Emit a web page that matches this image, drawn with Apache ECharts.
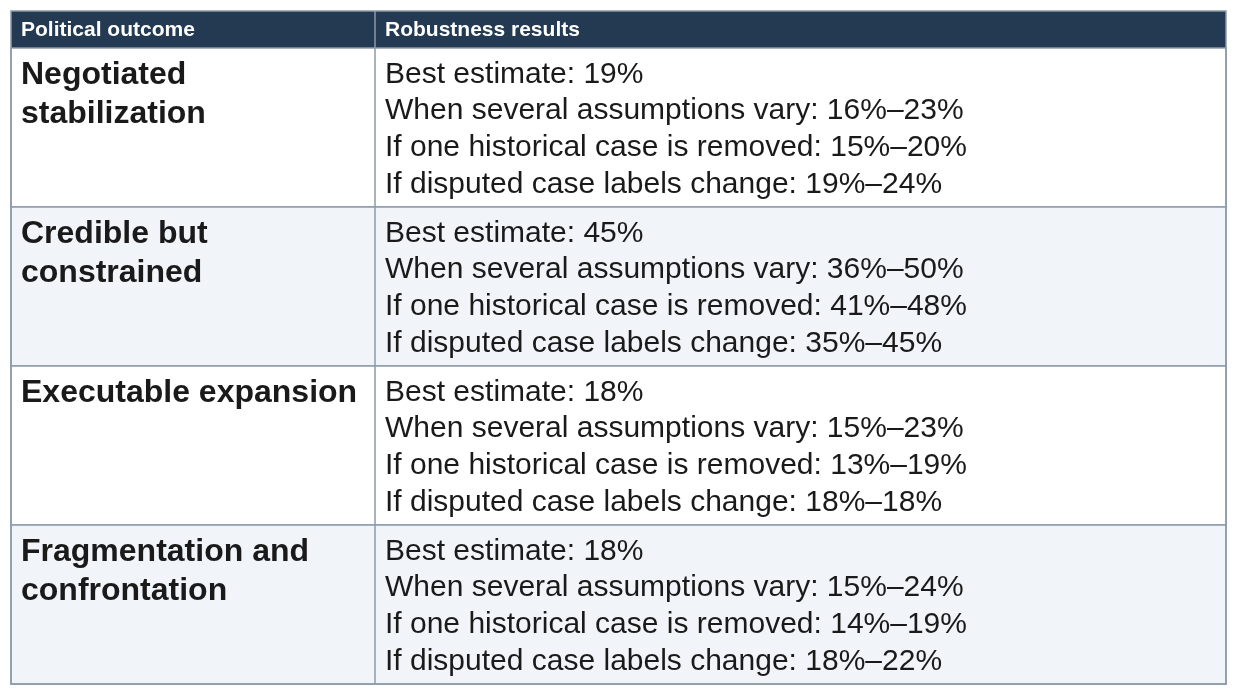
<!DOCTYPE html>
<html><head><meta charset="utf-8">
<script src="https://cdn.jsdelivr.net/npm/echarts@6/dist/echarts.min.js"></script>
<style>html,body{margin:0;padding:0;background:#fff}#c{width:1237px;height:695px}</style>
</head><body><div id="c"></div>
<script>
const headers = ["Political outcome", "Robustness results"];
const outcomes = ["Negotiated\nstabilization", "Credible but\nconstrained", "Executable expansion", "Fragmentation and\nconfrontation"];
const bestEstimate = [19, 45, 18, 18];
const assumptionsVary = [[16, 23], [36, 50], [15, 23], [15, 24]];
const caseRemoved = [[15, 20], [41, 48], [13, 19], [14, 19]];
const labelsChange = [[19, 24], [35, 45], [18, 18], [18, 22]];

const X0 = 11, X1 = 375, X2 = 1226, HY0 = 11, HY1 = 48, RH = 159;
const font = '"Liberation Sans", Arial, sans-serif';
const els = [];
els.push({type:'rect', shape:{x:X0,y:HY0,width:X2-X0,height:HY1-HY0}, style:{fill:'#233a52'}});
els.push({type:'text', x:X0+10, y:(HY0+HY1)/2+1, style:{text:headers[0], fill:'#fff', font:'bold 21px '+font, verticalAlign:'middle'}});
els.push({type:'text', x:X1+10, y:(HY0+HY1)/2+1, style:{text:headers[1], fill:'#fff', font:'bold 21px '+font, verticalAlign:'middle'}});
const rng = r => r[0] + '%–' + r[1] + '%';
outcomes.forEach((o, i) => {
  const y = HY1 + i * RH;
  els.push({type:'rect', shape:{x:X0,y:y,width:X2-X0,height:RH}, style:{fill: i%2 ? '#f1f5f9' : '#ffffff', stroke:'#8d9aa8', lineWidth:1.5}});
  els.push({type:'line', shape:{x1:X1,y1:y,x2:X1,y2:y+RH}, style:{stroke:'#8d9aa8', lineWidth:1.5}});
  els.push({type:'text', x:X0+10, y:y+8, style:{text:o, fill:'#1a1a1a', font:'bold 32px '+font, lineHeight:38.5, verticalAlign:'top'}});
  const lines = [
    'Best estimate: ' + bestEstimate[i] + '%',
    'When several assumptions vary: ' + rng(assumptionsVary[i]),
    'If one historical case is removed: ' + rng(caseRemoved[i]),
    'If disputed case labels change: ' + rng(labelsChange[i])
  ];
  els.push({type:'text', x:X1+10, y:y+8, style:{text:lines.join('\n'), fill:'#1a1a1a', font:'30px '+font, lineHeight:36.8, verticalAlign:'top'}});
});
els.push({type:'rect', shape:{x:X0,y:HY0,width:X2-X0,height:HY1-HY0+4*RH}, style:{fill:'none', stroke:'#8d9aa8', lineWidth:1.5}});
els.push({type:'line', shape:{x1:X1,y1:HY0,x2:X1,y2:HY1}, style:{stroke:'#8d9aa8', lineWidth:1.5}});
const chart = echarts.init(document.getElementById('c'));
chart.setOption({animation:false, graphic:{elements:els}});
</script></body></html>
